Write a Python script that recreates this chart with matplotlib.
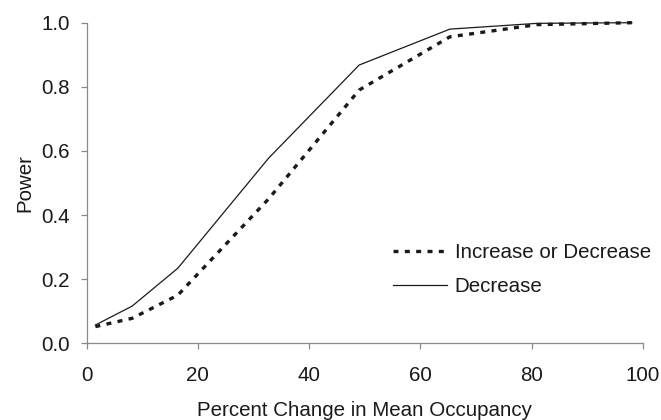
import matplotlib
matplotlib.use("Agg")
import matplotlib.pyplot as plt

plt.rcParams['font.family'] = ['Liberation Sans', 'DejaVu Sans']

pct_change = [1.6, 8.2, 16.4, 32.7, 49.0, 65.3, 81.0, 98.0]
power_inc_dec = [0.052, 0.078, 0.150, 0.450, 0.790, 0.956, 0.994, 1.0]
power_dec = [0.057, 0.116, 0.234, 0.577, 0.868, 0.980, 0.998, 1.0]
series_labels = ["Increase or Decrease", "Decrease"]
x_ticks = [0, 20, 40, 60, 80, 100]
y_ticks = [0.0, 0.2, 0.4, 0.6, 0.8, 1.0]

fig = plt.figure(figsize=(6.61, 4.20), dpi=100)
ax = fig.add_axes([86.5/661, 1-343.3/420, (643-86.5)/661, (343.3-22.7)/420])

ax.plot(pct_change, power_inc_dec, color='#1a1a1a', linewidth=2.4,
        dashes=(1.5, 1.9), dash_capstyle='butt', label=series_labels[0], clip_on=False)
ax.plot(pct_change, power_dec, color='#1a1a1a', linewidth=0.9,
        label=series_labels[1], clip_on=False)

ax.set_xlim(0, 100)
ax.set_ylim(0, 1.0)
ax.set_xticks(x_ticks)
ax.set_yticks(y_ticks)
ax.set_yticklabels([f"{v:.1f}" for v in y_ticks])

for s in ['top', 'right']:
    ax.spines[s].set_visible(False)
for s in ['left', 'bottom']:
    ax.spines[s].set_color('#8a8a8a')
    ax.spines[s].set_linewidth(0.9)

ax.tick_params(axis='both', direction='out', length=4, width=0.9, color='#8a8a8a',
               labelsize=14.8, labelcolor='#1a1a1a')
ax.tick_params(axis='x', pad=12)
ax.tick_params(axis='y', pad=8)

ax.set_xlabel("Percent Change in Mean Occupancy", fontsize=14.8, color='#1a1a1a', labelpad=12)
ax.set_ylabel("Power", fontsize=14.8, color='#1a1a1a', labelpad=5)

leg = ax.legend(loc='upper left', bbox_to_anchor=(393/661, 1-243/420),
                bbox_transform=fig.transFigure, frameon=False, fontsize=14.8,
                handlelength=2.65, handletextpad=0.35, borderpad=0, borderaxespad=0,
                labelspacing=0.72)
for t in leg.get_texts():
    t.set_color('#1a1a1a')

fig.savefig("out.png", dpi=100)
